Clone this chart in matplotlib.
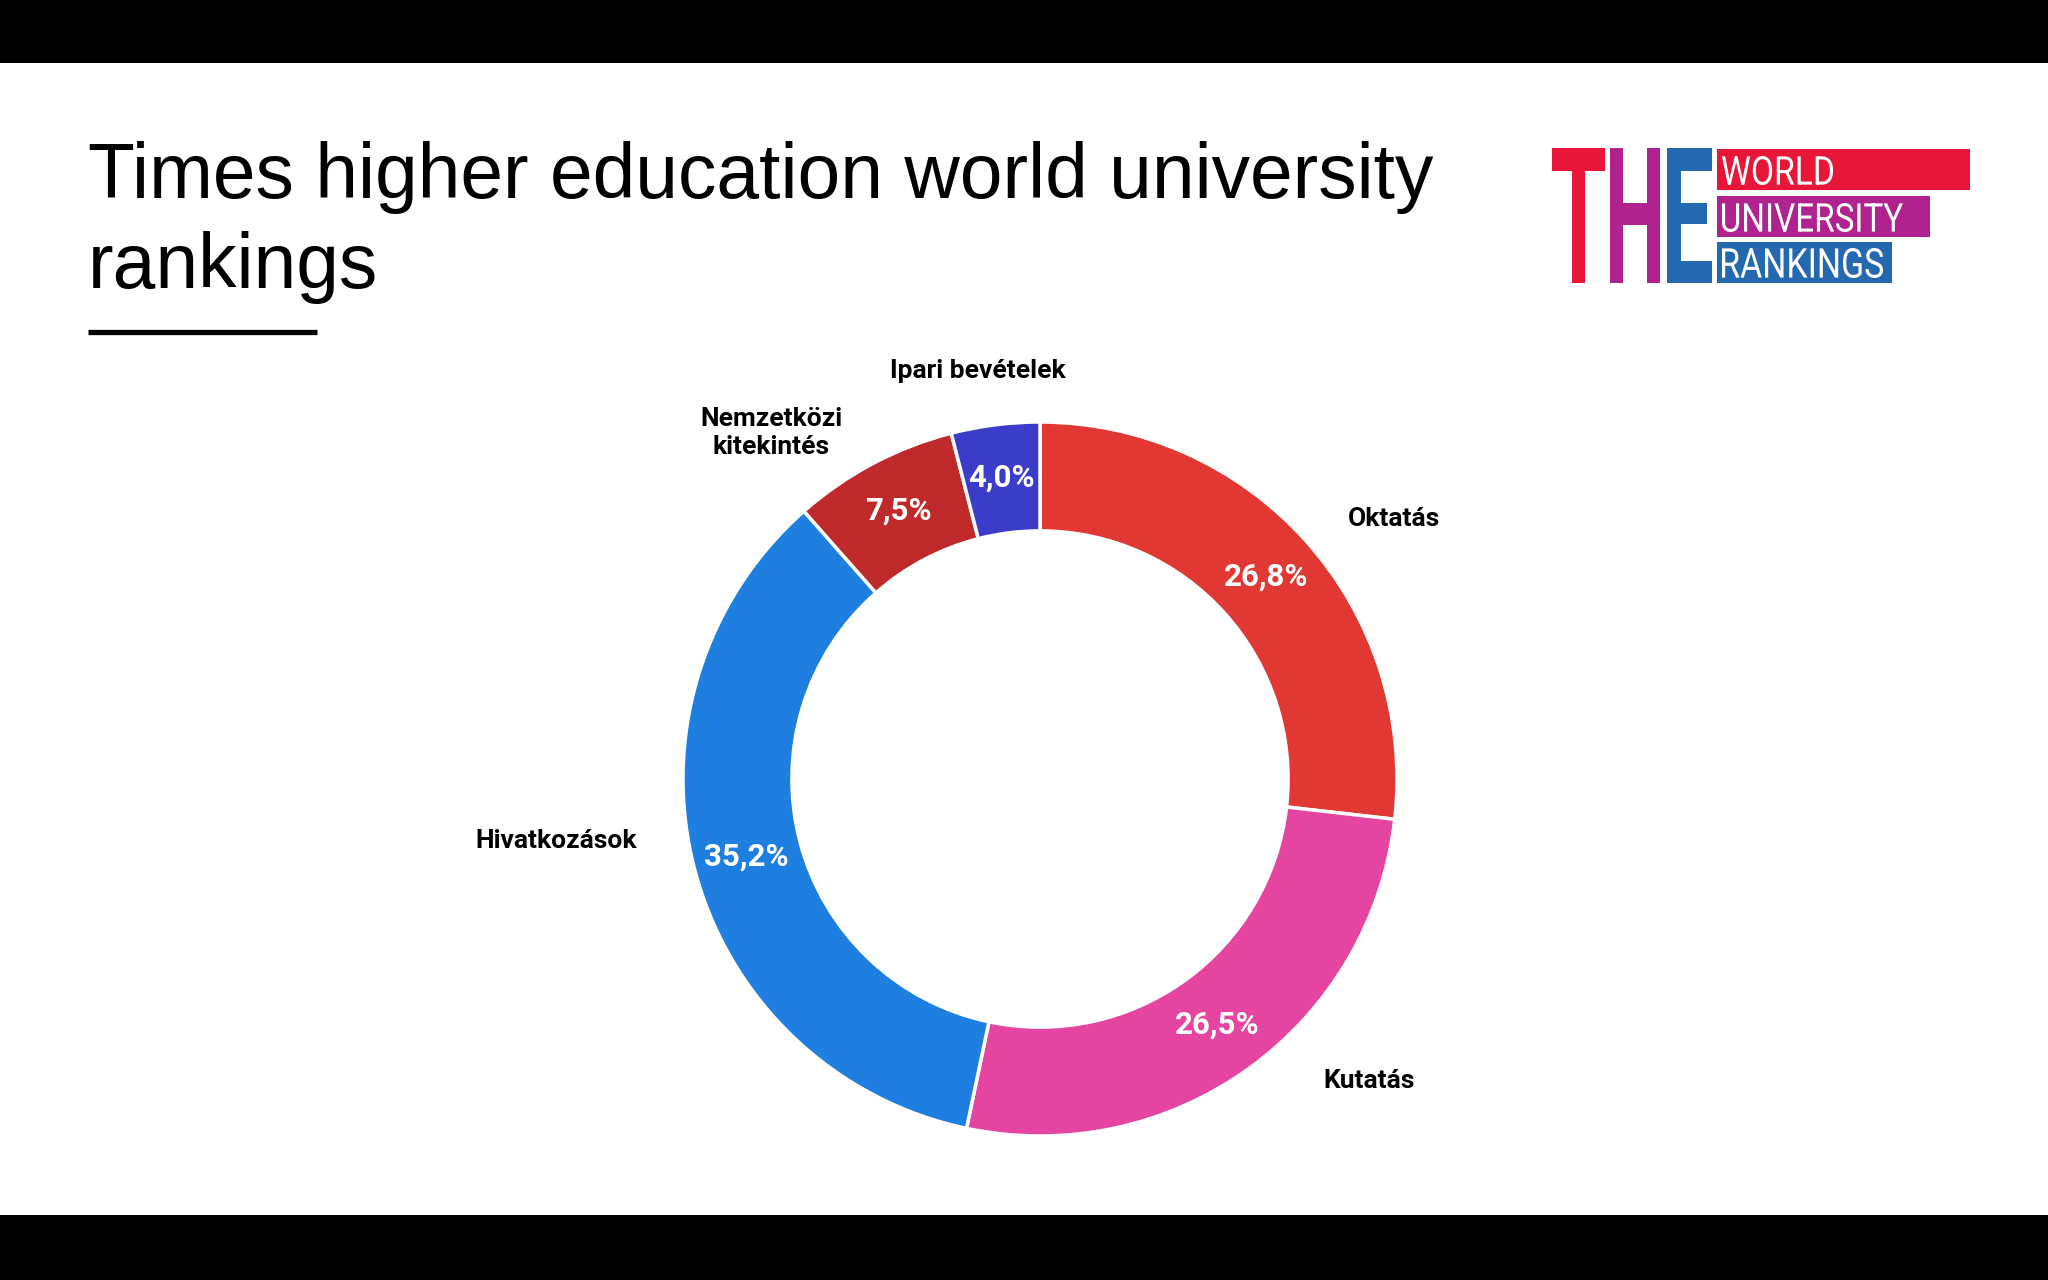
import matplotlib
matplotlib.use("Agg")
import matplotlib.pyplot as plt
from matplotlib.textpath import TextPath
from matplotlib.patches import PathPatch, Rectangle
from matplotlib.font_manager import FontProperties
from matplotlib.transforms import Affine2D

# data
categories = ["Oktatás", "Kutatás", "Hivatkozások", "Nemzetközi\nkitekintés", "Ipari bevételek"]
shares = [26.8, 26.5, 35.2, 7.5, 4.0]
colors = ["#e23833", "#e544a0", "#1e7fe0", "#c0292a", "#3c3ccb"]
title_lines = ["Times higher education world university", "rankings"]

W, H = 2048, 1280
label_font = ["Liberation Sans Narrow", "Roboto", "DejaVu Sans"]

# where the outside labels sit (in pie radius units) and how they are anchored
label_layout = [((0.863, 0.728), "left"),
                ((0.793, -0.845), "left"),
                ((-1.13, -0.175), "right"),
                ((-0.753, 0.969), "center"),
                ((-0.175, 1.144), "center")]


# squeeze a string into a pixel box (used for the logo)
def fit_text(ax, s, box, color, prop):
    tp = TextPath((0, 0), s, size=100, prop=prop)
    bb = tp.get_extents()
    x0, y0, x1, y1 = box
    sx = (x1 - x0) / bb.width
    sy = (y1 - y0) / bb.height
    tr = Affine2D().translate(-bb.x0, -bb.y0).scale(sx, -sy).translate(x0, y1)
    ax.add_patch(PathPatch(tr.transform_path(tp), fc=color, ec="none"))


fig = plt.figure(figsize=(W / 100, H / 100), dpi=100)

# background overlay in pixel coords
bg = fig.add_axes([0, 0, 1, 1])
bg.set_xlim(0, W)
bg.set_ylim(H, 0)
bg.axis("off")
bg.add_patch(Rectangle((0, 0), W, 63, fc="black", ec="none"))
bg.add_patch(Rectangle((0, 1215), W, 65, fc="black", ec="none"))

for i, line in enumerate(title_lines):
    bg.text(88, 198 + 90 * i, line, fontsize=55.3,
            family=["Liberation Sans", "DejaVu Sans"], va="baseline", ha="left")
bg.plot([88, 317], [332, 332], color="black", lw=3.8, solid_capstyle="butt")

# logo
bold = FontProperties(family=["Roboto", "Liberation Sans"], weight="bold")
thin = FontProperties(family=["Roboto", "Liberation Sans"])
fit_text(bg, "T", (1552, 148, 1605, 283), "#e8173a", bold)
fit_text(bg, "H", (1610, 148, 1660, 283), "#b0238f", bold)
fit_text(bg, "E", (1667, 148, 1712, 283), "#2469b0", bold)
bg.add_patch(Rectangle((1717, 149), 253, 41, fc="#e8173a", ec="none"))
bg.add_patch(Rectangle((1717, 196), 213, 41, fc="#b0238f", ec="none"))
bg.add_patch(Rectangle((1717, 242), 175, 41, fc="#2469b0", ec="none"))
fit_text(bg, "WORLD", (1722, 156, 1833, 185), "white", thin)
fit_text(bg, "UNIVERSITY", (1722, 203, 1903, 232), "white", thin)
fit_text(bg, "RANKINGS", (1722, 248, 1883, 278), "white", thin)

# donut
cx, cy, r = 1040, 779, 357
ax = fig.add_axes([(cx - r) / W, (H - cy - r) / H, 2 * r / W, 2 * r / H])
wedges, texts, autotexts = ax.pie(
    shares, labels=categories, colors=colors, startangle=90, counterclock=False,
    radius=1, pctdistance=0.85,
    autopct=lambda p: f"{p:.1f}%".replace(".", ","),
    wedgeprops=dict(width=0.305, edgecolor="white", linewidth=2.5),
    textprops=dict(fontsize=19, fontweight="bold", family=label_font))
for t in autotexts:
    t.set_color("white")
    t.set_fontsize(22.5)
for t, (pos, ha) in zip(texts, label_layout):
    t.set_position(pos)
    t.set_ha(ha)
    t.set_va("center")
    t.set_multialignment("center")
ax.set_xlim(-1, 1)
ax.set_ylim(-1, 1)
ax.set_aspect("equal")

fig.savefig("out.png", dpi=100)
